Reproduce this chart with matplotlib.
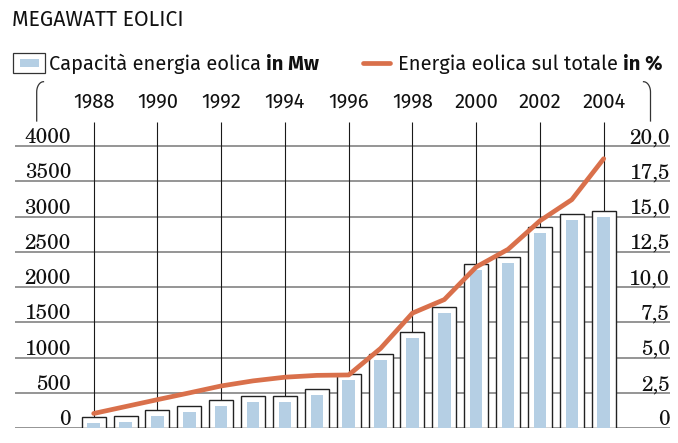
import matplotlib
matplotlib.use("Agg")
import matplotlib.pyplot as plt
from matplotlib import font_manager
from matplotlib.lines import Line2D
from matplotlib.patches import Rectangle
from matplotlib.transforms import blended_transform_factory
import numpy as np

# ---------------- data ----------------
years = list(range(1988, 2005))
capacity_mw = [71, 89, 170, 227, 320, 377, 377, 468, 684, 968, 1284, 1630,
               2243, 2338, 2763, 2952, 2999]
share_pct = [1.05, 1.54, 2.03, 2.51, 3.0, 3.36, 3.62, 3.75, 3.78, 5.66, 8.16,
             9.12, 11.43, 12.68, 14.7, 16.2, 19.1]
year_labels = [1988, 1990, 1992, 1994, 1996, 1998, 2000, 2002, 2004]
left_ticks = [0, 500, 1000, 1500, 2000, 2500, 3000, 3500, 4000]
right_ticks = [0, 2.5, 5.0, 7.5, 10.0, 12.5, 15.0, 17.5, 20.0]
right_labels = ["0", "2,5", "5,0", "7,5", "10,0", "12,5", "15,0", "17,5", "20,0"]
title = "MEGAWATT EOLICI"
legend_bar = ("Capacità energia eolica ", "in Mw")
legend_line = ("Energia eolica sul totale ", "in %")

# ---------------- style ----------------
W, H = 678, 443
BLUE = "#b5cfe4"
ORANGE = "#d9704b"
GRID = "#8c8c8c"
TXT = "#111111"

available = {f.name for f in font_manager.fontManager.ttflist}

def pick(cands, fallback):
    return [f for f in cands if f in available][:1] + [fallback]

SANS = pick(["Fira Sans", "PT Sans", "Roboto"], "DejaVu Sans")
SERIF = pick(["C059", "TeX Gyre Schola", "Century Schoolbook L",
              "Libre Baskerville", "PT Serif"], "DejaVu Serif")

fig = plt.figure(figsize=(W / 100, H / 100), dpi=100)

def fx(px):
    return px / W

def fy(py):
    return 1 - py / H

# axes: left 15px, right 670px, top 122px, baseline 428.3px
ax = fig.add_axes([fx(15), fy(428.3), fx(670 - 15), (428.3 - 122) / H])
px_per_year = 31.875
x_left = 1988 - (93.7 - 15) / px_per_year
x_right = 2004 + (670 - 603.7) / px_per_year
mw_per_px = 4000 / (428.3 - 146)
y_top = 4000 + (146 - 122) * mw_per_px
ax.set_xlim(x_left, x_right)
ax.set_ylim(0, y_top)
ax.axis("off")

# horizontal grid
ax.hlines(left_ticks, x_left, x_right, colors=GRID, lw=1.3, zorder=1)
# vertical year lines
ax.vlines(year_labels, 0, y_top, colors="#1a1a1a", lw=0.8, zorder=1)

# bars: white framed box with blue inner bar
frame_pad = 6 * mw_per_px
cap = np.array(capacity_mw, dtype=float)
ax.bar(years, cap + frame_pad, width=0.75, color="white", edgecolor="#222222",
       lw=1.0, zorder=2)
ax.bar(years, cap, width=0.39, color=BLUE, lw=0, zorder=3)

# line on secondary axis
ax2 = ax.twinx()
ax2.set_ylim(0, y_top / 200)
ax2.set_xlim(x_left, x_right)
ax2.axis("off")
ax2.plot(years, share_pct, color=ORANGE, lw=3.4, solid_capstyle="round",
         solid_joinstyle="round", zorder=5)

# left tick labels
lab_off = 3.0
tr_left = blended_transform_factory(ax.transAxes, ax.transData)
for v in left_ticks:
    ax.text((71 - 15) / 655, v + lab_off * mw_per_px, f"{v}", transform=tr_left,
            ha="right", va="baseline", fontsize=15, family=SERIF,
            fontweight="normal", color=TXT)
# right tick labels
tr_right = blended_transform_factory(ax2.transAxes, ax2.transData)
for v, lab in zip(right_ticks, right_labels):
    ax2.text(1.0, v + lab_off * mw_per_px / 200, lab, transform=tr_right,
             ha="right", va="baseline", fontsize=15, family=SERIF,
             fontweight="normal", color=TXT)

# year labels above
tr_year = blended_transform_factory(ax.transData, fig.transFigure)
for yr in year_labels:
    ax.text(yr, fy(108), str(yr), transform=tr_year, ha="center",
            va="baseline", fontsize=14.5, family=SANS, color=TXT)

# title
fig.text(fx(12), fy(26), title, ha="left", va="baseline", fontsize=15.3,
         family=SANS, color=TXT)

# legend 1
fig.add_artist(Rectangle((fx(13.3), fy(73.3)), fx(45 - 13.3), (73.3 - 52.7) / H,
                         transform=fig.transFigure, facecolor="white",
                         edgecolor="#333333", lw=0.9))
fig.add_artist(Rectangle((fx(20), fy(66.7)), fx(39.3 - 20), (66.7 - 59.3) / H,
                         transform=fig.transFigure, facecolor=BLUE, lw=0))
t1 = fig.text(fx(49), fy(70), legend_bar[0], ha="left", va="baseline",
              fontsize=14.5, family=SANS, color=TXT)
plt.annotate(legend_bar[1], xy=(1, 0), xycoords=t1, xytext=(0, 0),
             textcoords="offset points", ha="left", va="bottom",
             fontsize=14.5, family=SANS, fontweight="bold", color=TXT,
             annotation_clip=False)

# legend 2
fig.add_artist(Line2D([fx(363), fx(390)], [fy(62.7), fy(62.7)],
                      transform=fig.transFigure, color=ORANGE, lw=3.4,
                      solid_capstyle="round"))
t2 = fig.text(fx(398), fy(70), legend_line[0], ha="left", va="baseline",
              fontsize=14.5, family=SANS, color=TXT)
plt.annotate(legend_line[1], xy=(1, 0), xycoords=t2, xytext=(0, 0),
             textcoords="offset points", ha="left", va="bottom",
             fontsize=14.5, family=SANS, fontweight="bold", color=TXT,
             annotation_clip=False)

# brackets
def bracket(x_vert, x_end):
    t = np.linspace(0, 1, 12)
    cx = x_vert + (x_end - x_vert) * (1 - np.sin(t * np.pi / 2))
    cy = 81.7 + (92 - 81.7) * (1 - np.cos(t * np.pi / 2))
    xs = list(cx) + [x_vert]
    ys = list(cy) + [121]
    fig.add_artist(Line2D([fx(v) for v in xs], [fy(v) for v in ys],
                          transform=fig.transFigure, color="#333333", lw=0.9))

bracket(36.7, 43.5)
bracket(650.5, 643.5)

fig.savefig("out.png", dpi=100)
